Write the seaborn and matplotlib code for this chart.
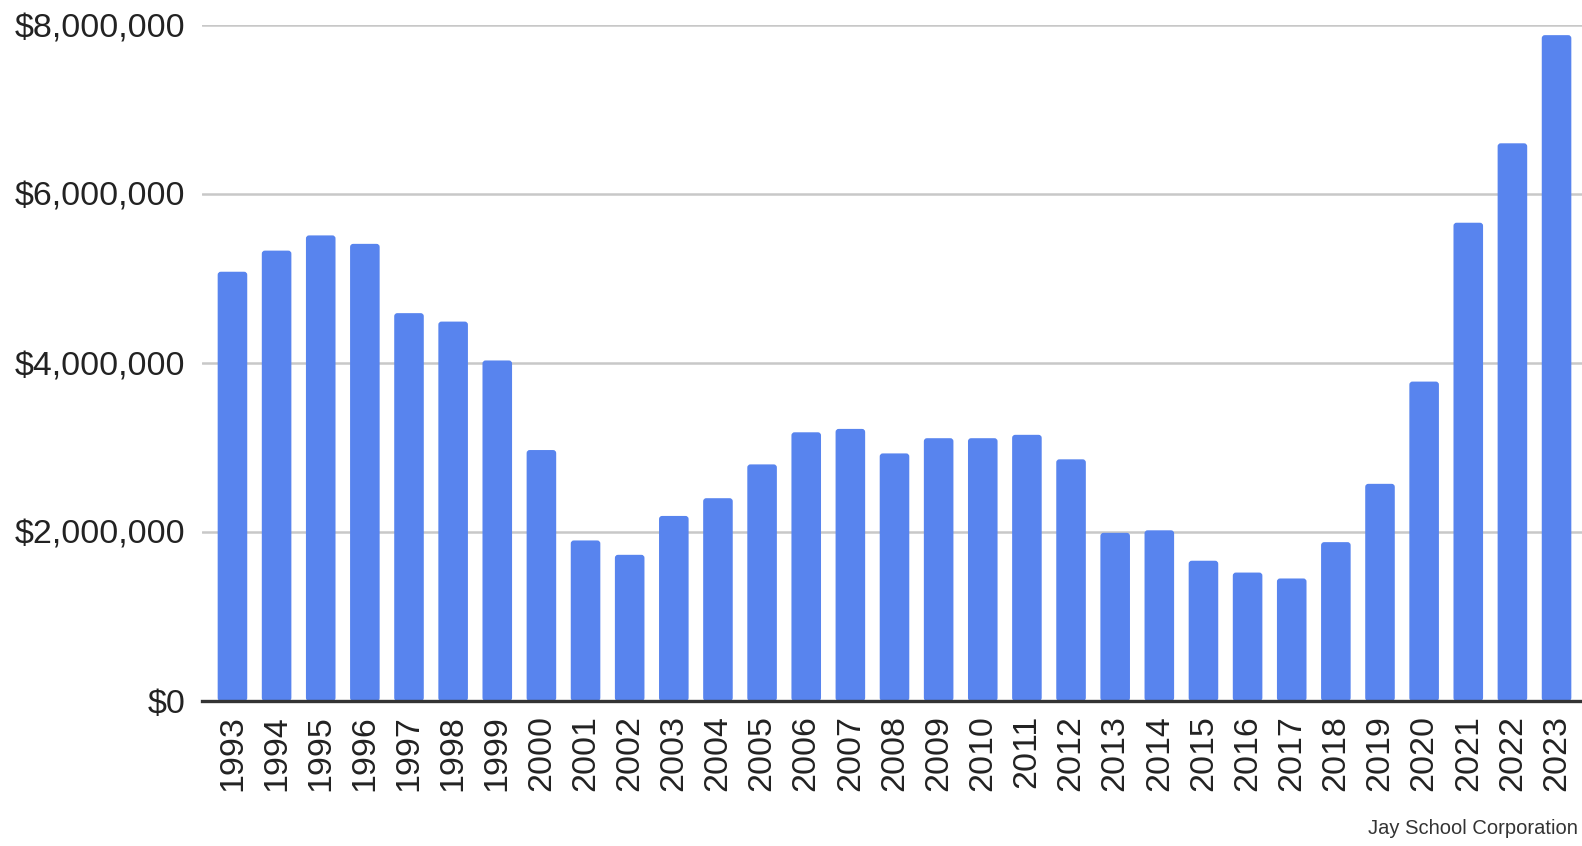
import matplotlib
matplotlib.use('Agg')
import matplotlib.pyplot as plt
import seaborn as sns
from matplotlib.patches import FancyBboxPatch
from matplotlib.ticker import FuncFormatter

years = [str(y) for y in range(1993, 2024)]
amounts = [5.08, 5.33, 5.51, 5.41, 4.59, 4.49, 4.03, 2.97, 1.90, 1.73,
           2.19, 2.40, 2.80, 3.18, 3.22, 2.93, 3.11, 3.11, 3.15, 2.86,
           1.99, 2.02, 1.66, 1.52, 1.45, 1.88, 2.57, 3.78, 5.66, 6.60, 7.88]
amounts = [a * 1_000_000 for a in amounts]
y_ticks = [0, 2_000_000, 4_000_000, 6_000_000, 8_000_000]
source = 'Jay School Corporation'

sns.set_style('white')
plt.rcParams['font.family'] = ['Liberation Sans', 'DejaVu Sans']

fig = plt.figure(figsize=(15.82, 8.46), dpi=100)
W, H = 1582, 846
ax = fig.add_axes([202 / W, 145 / H, (1587 - 202) / W, (701 - 25) / H])

sns.barplot(x=years, y=amounts, color='#5884ee', saturation=1, width=0.67, ax=ax)

ax.set_xlim(-0.69, 30.69)
ax.set_ylim(0, 8_000_000)

# rounded bar corners like the original
aspect = (8_000_000 / 676) / (31.38 / 1385)
for p in list(ax.patches):
    x, w, h = p.get_x(), p.get_width(), p.get_height()
    r = FancyBboxPatch((x, 0), w, h, boxstyle='round,pad=0,rounding_size=0.07',
                       mutation_aspect=aspect, facecolor=p.get_facecolor(),
                       edgecolor='none', zorder=p.get_zorder())
    p.remove()
    ax.add_patch(r)

ax.set_yticks(y_ticks)
ax.yaxis.set_major_formatter(FuncFormatter(lambda v, p: f'${v:,.0f}'))
ax.yaxis.grid(True, color='#c8c8c8', linewidth=1.8)
ax.set_axisbelow(True)
for s in ['top', 'right', 'left']:
    ax.spines[s].set_visible(False)
ax.spines['bottom'].set_color('#333333')
ax.spines['bottom'].set_linewidth(2.4)
ax.spines['bottom'].set_zorder(5)
ax.tick_params(axis='y', length=0, pad=12, labelsize=24.5, labelcolor='#222222')
ax.tick_params(axis='x', length=0, pad=10, labelsize=24.5, labelcolor='#222222', rotation=90)
ax.set_xlabel('')
ax.set_ylabel('')

fig.text(1578 / W, 1 - 828 / H, source, fontsize=14.5, color='#333333', ha='right', va='center')

fig.savefig('out.png', dpi=100)
